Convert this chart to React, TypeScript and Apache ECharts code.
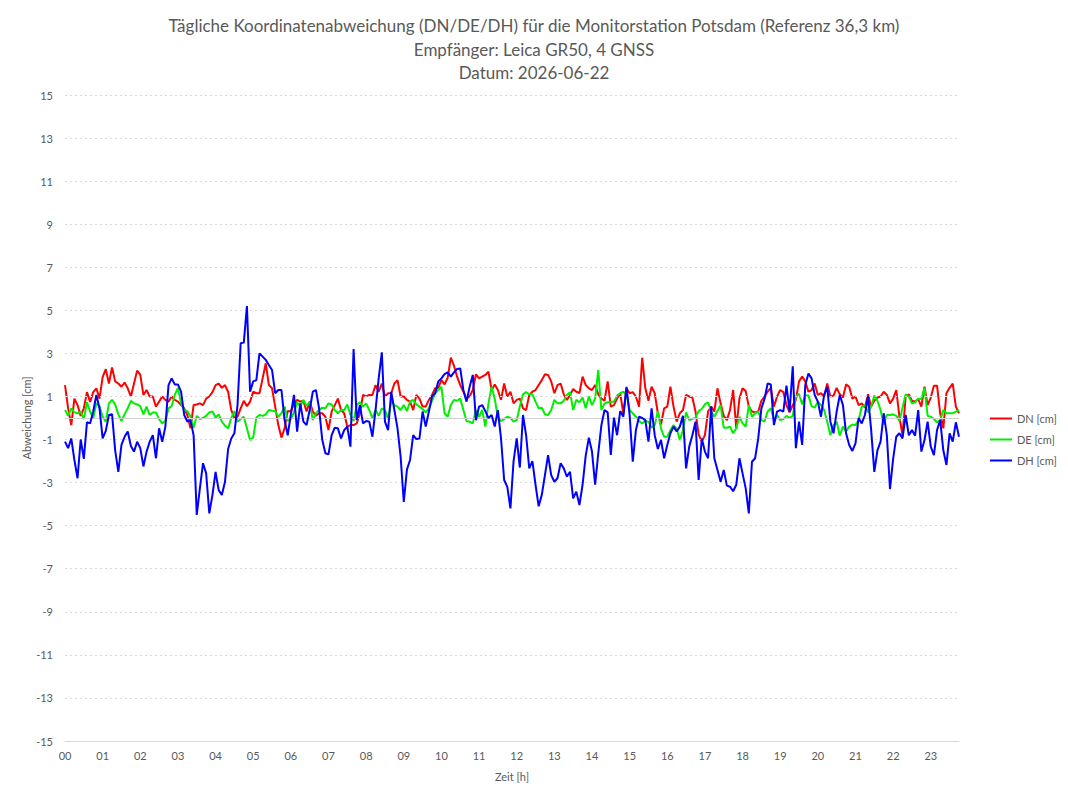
import React, { useEffect, useRef } from "react";
import * as echarts from "echarts";

// Five-minute samples starting at 00:00 (12 samples per hour)
const SAMPLES_PER_HOUR = 12;

const DN: number[] = [
  1.53, 0.45, -0.33, 0.9, 0.6, 0.1, 0.45, 1.2, 0.75, 1.2, 1.38, 0.9,
  1.9, 2.27, 1.6, 2.35, 1.7, 1.6, 1.45, 1.65, 1.38, 1.0, 1.6, 2.2,
  2.0, 1.07, 1.3, 1.0, 1.0, 0.53, 0.76, 1.0, 0.84, 0.76, 1.0, 0.84,
  0.76, 0.6, 0.45, 0.14, -0.48, 0.6, 0.63, 0.68, 0.6, 0.9, 1.0, 1.2,
  1.53, 1.6, 1.4, 1.53, 1.22, 0.37, 0.0, 0.06, 0.45, 0.8, 0.55, 0.76,
  1.22, 1.15, 1.15, 1.84, 2.54, 1.53, 1.38, 0.53, -0.33, -0.91, -0.48, 0.32,
  0.3, 0.68, 0.84, 0.76, 0.8, 0.3, 0.76, 0.3, 0.1, 0.22, 0.22, 0.06,
  -0.56, 0.3, 0.6, 0.9, 0.37, 0.22, -0.4, -0.33, -0.33, -0.25, 0.22, 1.07,
  1.0, 1.07, 1.07, 1.53, 1.22, 1.6, 1.0, 1.15, 1.15, 1.6, 1.76, 1.0,
  1.0, 0.84, 0.76, 0.37, 1.07, 0.9, 0.53, 0.53, 0.84, 1.07, 1.38, 1.4,
  1.76, 1.56, 1.87, 2.8, 2.43, 1.92, 1.53, 1.22, 0.9, 1.0, 1.3, 2.03,
  1.84, 1.92, 2.0, 2.15, 1.3, 1.56, 1.3, 0.84, 1.6, 1.0, 1.22, 0.68,
  0.84, 0.9, 0.45, 0.37, 1.07, 1.22, 1.3, 1.53, 1.76, 2.03, 2.0, 1.7,
  1.15, 1.53, 1.6, 1.1, 0.84, 1.07, 1.35, 1.22, 1.16, 1.92, 1.53, 1.38,
  1.3, 1.53, 1.1, 0.9, 0.8, 1.7, 0.53, 0.6, 0.9, 1.15, 0.2, 1.38,
  1.15, 1.2, 1.0, 0.53, 2.8, 1.38, 0.8, 1.45, 1.15, 0.22, -0.3, 0.45,
  0.53, 1.45, 0.53, -0.17, 0.22, 0.37, 1.07, 1.0, 0.95, 0.3, -0.76, -1.1,
  -0.8, 0.3, 0.53, 0.3, 1.38, 0.68, 0.1, -0.1, 0.37, 1.3, -0.48, 0.9,
  1.38, 1.25, 0.53, 0.3, 0.26, 0.3, 0.8, 1.0, 1.22, 1.4, 0.53, 1.0,
  1.3, 1.2, 0.6, 0.26, 0.6, 0.84, 1.7, 1.92, 1.7, 1.22, 1.3, 1.6,
  1.07, 1.15, 1.0, 1.6, 1.0, 1.04, 1.4, 1.1, 0.95, 1.56, 1.45, 0.9,
  1.0, 0.6, 0.68, 0.48, 1.1, 0.53, 0.8, 0.95, 1.0, 1.22, 1.07, 0.68,
  0.9, 1.3, 0.06, -0.8, 1.0, 1.1, 0.8, 0.76, 0.88, 0.53, 1.45, 0.6,
  0.95, 1.5, 1.5, 0.22, -0.48, 1.15, 1.4, 1.6, 0.53, 0.22,
];

const DE: number[] = [
  0.37, 0.1, 0.45, 0.26, 0.22, 0.3, -0.05, 0.73, 0.3, 0.0, 0.68, 0.55,
  0.06, -0.17, 0.68, 0.84, 0.63, 0.17, -0.14, 0.17, 0.45, 0.8, 0.68, 0.63,
  0.55, 0.17, 0.53, 0.14, 0.26, 0.26, -0.05, -0.25, -0.14, 0.45, 0.55, 1.07,
  1.4, 0.68, 0.37, 0.32, 0.06, -0.45, 0.1, -0.05, 0.0, 0.1, 0.26, 0.3,
  0.02, 0.17, -0.17, -0.36, -0.48, 0.0, 0.32, -0.17, -0.05, 0.06, -0.48, -1.02,
  -0.9, 0.02, 0.14, 0.1, 0.17, 0.37, 0.34, 0.32, 0.06, 0.22, 0.53, -0.14,
  -0.05, 0.26, 0.73, 0.53, 0.84, 0.57, 0.73, -0.1, 0.22, 0.37, 0.48, 0.45,
  0.68, 0.63, 0.37, 0.22, 0.37, 0.37, 0.63, 0.14, -0.14, 0.6, 0.73, 0.53,
  0.68, 0.37, 0.0, 0.37, 0.1, 0.45, 0.37, -0.05, 0.8, 0.6, 0.53, 0.37,
  0.6, 0.32, 0.76, 0.84, 0.63, 0.53, 0.42, 0.26, 0.45, 0.8, 1.15, 1.3,
  1.45, 0.22, 0.06, 0.6, 0.84, 0.8, 0.9, 0.37, -0.14, -0.17, -0.25, 0.37,
  0.06, 0.37, -0.4, 0.68, 1.45, 0.9, 0.0, -0.14, -0.05, 0.06, 0.0, -0.17,
  -0.1, 0.53, 1.1, 1.2, 1.1, 1.1, 0.76, 0.45, 0.48, 0.17, 0.14, 0.37,
  0.84, 0.68, 0.68, 0.8, 1.07, 1.2, 0.37, 0.84, 0.73, 0.95, 0.45, 1.0,
  0.6, 0.9, 2.23, 0.37, 0.68, 0.73, 0.76, 0.76, 1.04, 1.15, 1.22, 1.07,
  0.37, 0.22, 0.06, -0.14, -0.25, -0.14, -0.17, -0.45, -0.33, 0.32, -0.48, -0.87,
  -0.87, -0.56, -0.33, -0.48, -1.02, -0.56, 0.26, -0.1, -0.05, 0.02, 0.32, 0.42,
  0.63, 0.73, 0.3, 0.06, 0.32, 0.6, -0.45, -0.45, -0.4, -0.71, -0.48, 0.06,
  -0.25, -0.4, 0.6, 0.06, 0.22, 0.3, -0.1, -0.17, 0.3, 0.45, -0.1, 0.14,
  -0.1, -0.05, 0.1, 0.0, 0.1, 1.0, 1.13, 0.63, 1.05, 1.05, 0.55, 0.48,
  0.76, 0.6, 0.37, -0.17, -0.8, -0.33, -0.17, -0.82, -0.4, -0.63, -0.4, -0.3,
  -0.33, -0.1, 0.53, 0.6, 0.26, 0.53, 1.04, 0.8, 0.37, -0.3, 0.14, 0.14,
  0.17, 0.1, -0.14, 0.48, 1.1, 1.0, 0.68, 0.73, 0.9, 0.88, 1.4, 0.1,
  0.06, -0.05, -0.2, -0.1, 0.37, 0.22, 0.22, 0.22, 0.3, 0.37,
];

const DH: number[] = [
  -1.1, -1.4, -0.95, -1.95, -2.8, -1.0, -1.9, -0.2, -0.25, 0.3, 1.07, 0.45,
  -0.95, -0.6, 0.14, 0.17, -1.5, -2.5, -1.25, -0.87, -0.63, -1.3, -1.56, -1.1,
  -1.4, -2.25, -1.56, -1.1, -0.8, -1.87, -0.48, -1.1, -0.4, 1.53, 1.84, 1.56,
  1.56, 1.22, 0.14, -0.17, -0.1, -0.8, -4.5, -3.27, -2.1, -2.57, -4.43, -3.58,
  -2.5, -3.35, -3.58, -2.96, -1.44, -0.95, -0.71, 0.6, 3.47, 3.5, 5.2, 1.22,
  1.7, 1.76, 3.0, 2.85, 2.7, 2.46, 2.23, 1.15, 1.3, 1.3, -0.1, -0.8,
  0.17, 1.07, -0.63, 0.68, -0.17, -0.33, 0.37, 1.22, 1.3, 0.45, -1.0, -1.64,
  -1.69, -0.8, -0.45, -0.48, -0.95, -0.56, -0.4, -1.33, 3.2, -0.1, 0.6, -0.25,
  -0.14, -0.17, -0.87, 0.37, 1.84, 3.05, -0.17, -0.56, 1.22, 0.37, -0.48, -1.8,
  -3.9, -2.4, -1.95, -0.8, -0.98, -0.95, 0.3, -0.4, 0.3, 1.0, 1.15, 1.7,
  1.84, 2.04, 2.12, 1.92, 2.12, 2.28, 2.3, 1.3, 0.76, 1.45, 2.0, -0.1,
  0.53, 0.6, 0.32, 0.0, 0.14, -0.4, 0.37, -0.95, -2.88, -3.2, -4.2, -2.0,
  -0.95, -2.3, 0.14, -0.8, -2.34, -2.0, -3.1, -4.1, -3.57, -2.65, -1.72, -2.65,
  -2.96, -2.8, -2.1, -2.34, -2.72, -2.5, -3.73, -3.42, -4.04, -3.1, -1.75, -0.91,
  -1.56, -3.1, -1.64, -0.33, 0.37, 0.26, -1.72, 0.02, -0.8, 0.32, 0.06, 1.45,
  0.14, -2.03, -0.56, 0.06, 0.0, -0.1, -1.1, 0.45, -0.8, -1.44, -1.02, -1.87,
  -1.25, -0.71, -0.4, -0.63, -0.4, 0.1, -2.34, -1.33, -0.8, -0.17, -2.88, -0.95,
  -1.56, -1.87, 0.53, -1.87, -2.41, -2.96, -2.41, -3.14, -3.19, -3.4, -3.1, -1.87,
  -2.57, -3.27, -4.43, -2.03, -1.87, -0.95, 0.45, 0.88, 1.6, 1.56, -0.33, 0.3,
  0.37, 0.3, 1.5, 0.3, 2.4, -1.4, -0.17, -1.25, 1.53, 2.07, 1.84, 1.07,
  0.76, 0.06, 1.07, 1.45, -0.17, -0.71, 0.3, 1.07, 0.6, -0.71, -1.25, -1.53,
  -1.18, 0.0, -0.25, 0.14, 1.0, -0.56, -2.5, -1.5, -1.1, 0.22, -0.8, -3.3,
  -1.9, -0.87, -0.71, -0.95, 0.14, -0.8, -0.56, -0.82, 0.37, -1.56, -1.02, -0.17,
  -1.33, -1.72, -0.56, -0.1, -1.5, -2.18, -0.71, -1.1, -0.2, -0.87,
];

// Dotted horizontal guides at the odd tick values, plus the solid zero line
const GRID_LEVELS: number[] = [-13, -11, -9, -7, -5, -3, -1, 1, 3, 5, 7, 9, 11, 13, 15];
const ZERO_LEVEL = 0;

const SERIES_NAMES = ["DN [cm]", "DE [cm]", "DH [cm]"];
const SERIES_COLORS = ["#ff0000", "#00ee00", "#0000ff"];

const TITLE =
  "Tägliche Koordinatenabweichung (DN/DE/DH) für die Monitorstation Potsdam (Referenz 36,3 km)\n" +
  "Empfänger: Leica GR50, 4 GNSS\n" +
  "Datum: 2026-06-22";

const FONT = "Lato, 'Open Sans', sans-serif";
const TEXT_COLOR = "#595959";

const toPairs = (values: number[]) =>
  values.map((v, i) => [i / SAMPLES_PER_HOUR, v]);

export default function App() {
  const ref = useRef<HTMLDivElement>(null);

  useEffect(() => {
    document.body.style.margin = "0";
    if (!ref.current) return;
    const chart = echarts.init(ref.current, undefined, { renderer: "svg" });
    const lastHour = (DN.length - 1) / SAMPLES_PER_HOUR;

    const lineSeries = [DN, DE, DH].map((values, k) => ({
      name: SERIES_NAMES[k],
      type: "line" as const,
      data: toPairs(values),
      symbol: "none",
      lineStyle: { color: SERIES_COLORS[k], width: 2 },
      itemStyle: { color: SERIES_COLORS[k] },
      z: 3 + k,
    }));

    chart.setOption({
      animation: false,
      backgroundColor: "#ffffff",
      textStyle: { fontFamily: FONT },
      title: {
        text: TITLE,
        left: "center",
        top: 9,
        textStyle: {
          fontFamily: FONT,
          fontWeight: "normal",
          fontSize: 17,
          lineHeight: 23.5,
          color: TEXT_COLOR,
        },
      },
      legend: {
        data: SERIES_NAMES,
        orient: "vertical",
        left: 985,
        top: 408,
        itemWidth: 22,
        itemHeight: 14,
        itemGap: 10,
        icon: "path://M0,6 L22,6 L22,8 L0,8 Z",
        textStyle: { fontFamily: FONT, fontSize: 11, color: TEXT_COLOR },
      },
      grid: { left: 65, right: 109, top: 95, bottom: 60, containLabel: false },
      xAxis: {
        type: "value",
        min: 0,
        max: lastHour,
        interval: 1,
        name: "Zeit [h]",
        nameLocation: "middle",
        nameGap: 30,
        nameTextStyle: { fontFamily: FONT, fontSize: 11, color: TEXT_COLOR },
        axisLine: { onZero: false, lineStyle: { color: "#d9d9d9", width: 1 } },
        axisTick: { show: false },
        splitLine: { show: false },
        axisLabel: {
          fontFamily: FONT,
          fontSize: 11,
          color: TEXT_COLOR,
          margin: 9,
          showMaxLabel: false,
          formatter: (v: number) =>
            Number.isInteger(v) ? String(v).padStart(2, "0") : "",
        },
      },
      yAxis: {
        type: "value",
        min: -15,
        max: 15,
        interval: 1,
        name: "Abweichung [cm]",
        nameLocation: "middle",
        nameRotate: 90,
        nameGap: 33,
        nameMoveOverlap: false,
        nameTextStyle: { fontFamily: FONT, fontSize: 11, color: TEXT_COLOR },
        axisLine: { show: false },
        axisTick: { show: false },
        splitLine: { show: false },
        axisLabel: {
          fontFamily: FONT,
          fontSize: 11,
          color: TEXT_COLOR,
          margin: 12,
          formatter: (v: number) => (Math.abs(v) % 2 === 1 ? String(v) : ""),
        },
      },
      series: [
        {
          name: "grid",
          type: "line",
          data: [],
          silent: true,
          z: 1,
          markLine: {
            silent: true,
            symbol: "none",
            label: { show: false },
            animation: false,
            data: [
              ...GRID_LEVELS.map((y) => ({
                yAxis: y,
                lineStyle: { color: "#d9d9d9", width: 1, type: [2, 3] },
              })),
              {
                yAxis: ZERO_LEVEL,
                lineStyle: { color: "#d0d0d0", width: 1, type: "solid" },
              },
            ],
          },
        },
        ...lineSeries,
      ],
    });

    return () => chart.dispose();
  }, []);

  return <div ref={ref} style={{ width: 1068, height: 801 }} />;
}
